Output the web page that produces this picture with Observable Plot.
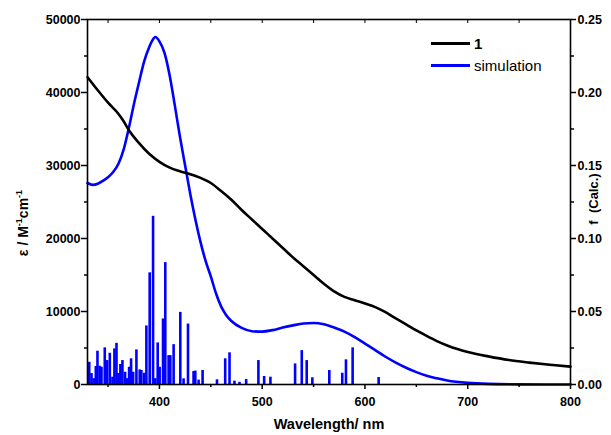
<!DOCTYPE html>
<html>
<head>
<meta charset="utf-8">
<script src="https://cdn.jsdelivr.net/npm/d3@7"></script>
<script src="https://cdn.jsdelivr.net/npm/@observablehq/plot@0.6"></script>
<style>
  body { margin: 0; background: #fff; }
  #wrap { position: relative; width: 611px; height: 435px; font-family: "Liberation Sans", Arial, sans-serif; }
  #legend { position: absolute; left: 431px; top: 33px; font-size: 15px; color: #000; }
  .row { display: flex; align-items: center; height: 21.5px; }
  .sw { width: 39px; height: 2.6px; margin-right: 4px; }
</style>
</head>
<body>
<div id="wrap"></div>
<script>
// Experimental spectrum of compound 1 (epsilon, M^-1 cm^-1)
const expWave = [330,340,350,360,365,370,380,390,400,410,420,430,440,450,460,470,480,490,500,510,520,530,540,550,560,570,580,590,600,610,620,630,640,650,660,670,680,690,700,720,740,760,780,800];
const expEps  = [42100,40300,38600,37100,36100,34900,33100,31600,30500,29700,29200,28800,28300,27600,26500,25300,23900,22600,21300,20000,18700,17400,16200,15000,13800,12750,12000,11550,11100,10600,9900,9050,8250,7400,6650,5950,5350,4850,4450,3850,3350,3000,2700,2450];

// Simulated spectrum (epsilon scale)
const simWave = [330,335,340,345,350,355,360,365,370,375,380,385,390,393,396,400,405,410,415,420,425,430,435,440,445,450,455,460,465,470,480,490,500,510,520,530,540,550,560,570,580,590,600,610,620,630,640,650,660,670,680,700,720,750,800];
const simEps  = [27600,27350,27500,27900,28400,29100,30200,32100,35000,38300,41300,44200,46200,47100,47600,47000,45400,42300,38200,33900,30000,26100,22600,19500,16900,14800,12500,10700,9500,8700,7750,7300,7250,7450,7800,8100,8350,8420,8250,7800,7250,6500,5600,4700,3800,3000,2300,1700,1200,850,550,220,80,20,0];

// Calculated oscillator strengths f
const stickWave = [331.7,333.9,336.1,338.1,339.7,341.9,343.6,346.8,349.1,351.7,354.3,356.2,358.2,360.1,362.0,364.0,366.6,368.6,370.5,372.4,374.4,377.6,380.8,382.4,385.1,387.3,390.5,393.8,396.0,398.3,400.2,403.5,405.7,408.9,410.6,413.8,420.3,423.5,427.8,433.2,434.9,438.1,442.0,456.0,464.0,468.2,473.0,477.9,484.4,496.3,501.9,508.0,532.0,538.5,543.3,548.8,565.3,577.9,581.5,588.0,613.3];
const stickF    = [0.0152,0.0075,0.004,0.0123,0.0228,0.0125,0.0118,0.0251,0.0164,0.0214,0.005,0.0244,0.0282,0.0075,0.0137,0.0164,0.0084,0.004,0.0118,0.0176,0.0084,0.0237,0.010,0.0096,0.0077,0.0401,0.0765,0.1152,0.004,0.0285,0.0118,0.0449,0.0835,0.0198,0.0198,0.0273,0.0494,0.0039,0.0414,0.0089,0.0092,0.003,0.0096,0.0032,0.0176,0.0217,0.0023,0.0015,0.0034,0.0164,0.0055,0.005,0.0141,0.0232,0.0164,0.0046,0.0096,0.0077,0.0169,0.0251,0.0048];

// Tick labels
const xMajor = [400,500,600,700,800];
const xMinor = [350,450,550,650,750];
const yMajor = [0,10000,20000,30000,40000,50000];
const yMinor = [5000,15000,25000,35000,45000];
const fPerEps = 0.25 / 50000; // right axis f scale vs left epsilon scale

const expData = expWave.map((w, i) => ({w, e: expEps[i]}));
const simData = simWave.map((w, i) => ({w, e: simEps[i]}));
const sticks = stickWave.map((w, i) => ({w, e: stickF[i] / fPerEps}));

const blue = "#0000ff";
const chart = Plot.plot({
  width: 611,
  height: 435,
  marginLeft: 87,
  marginRight: 41,
  marginTop: 19,
  marginBottom: 51,
  style: {fontFamily: "'Liberation Sans', Arial, sans-serif", fontSize: "12.5px", fontWeight: "bold", color: "#000", background: "#fff"},
  x: {domain: [330, 800]},
  y: {domain: [0, 50000]},
  marks: [
    Plot.ruleX(sticks, {x: "w", y1: 0, y2: "e", stroke: blue, strokeWidth: 2.6}),
    Plot.line(simData, {x: "w", y: "e", stroke: blue, strokeWidth: 2.6, curve: "monotone-x"}),
    Plot.line(expData, {x: "w", y: "e", stroke: "#000", strokeWidth: 2.6, curve: "monotone-x"}),
    Plot.frame({stroke: "#000", strokeWidth: 1.6}),
    Plot.axisX({ticks: xMajor, tickSize: 5, tickPadding: 8, strokeWidth: 1.5, label: null, tickFormat: d3.format("d")}),
    Plot.axisX({ticks: xMinor, tickSize: 3, strokeWidth: 1.5, label: null, tickFormat: () => ""}),
    Plot.axisX({anchor: "top", ticks: xMajor.concat(xMinor), tickSize: -3, strokeWidth: 1, label: null, tickFormat: () => ""}),
    Plot.axisY({ticks: yMajor, tickSize: 6, tickPadding: 1, strokeWidth: 1.5, label: null, tickFormat: d3.format("d")}),
    Plot.axisY({ticks: yMinor, tickSize: 3, strokeWidth: 1.5, label: null, tickFormat: () => ""}),
    Plot.axisY({anchor: "right", ticks: yMajor, tickSize: 5, tickPadding: 2, strokeWidth: 1.5, label: null, tickFormat: d => (d * fPerEps).toFixed(2)}),
    Plot.axisY({anchor: "right", ticks: yMinor, tickSize: 3, strokeWidth: 1.5, label: null, tickFormat: () => ""})
  ]
});

const svg = d3.select(chart);
// x title
svg.append("text").attr("x", 329).attr("y", 428.5).attr("text-anchor", "middle")
  .style("font-size", "14.5px").style("font-weight", "bold").text("Wavelength/ nm");
// left title
const lt = svg.append("text").attr("transform", "translate(28,223) rotate(-90)").attr("text-anchor", "middle")
  .style("font-size", "14px").style("font-weight", "bold");
lt.append("tspan").text("ε / M");
lt.append("tspan").attr("dy", -6).style("font-size", "9px").text("-1");
lt.append("tspan").attr("dy", 6).text("cm");
lt.append("tspan").attr("dy", -6).style("font-size", "9px").text("-1");
// right title
svg.append("text").attr("transform", "translate(598,199) rotate(-90)").attr("text-anchor", "middle")
  .style("font-size", "13px").style("font-weight", "bold").attr("xml:space", "preserve").text("f  (Calc.)");

const wrap = document.getElementById("wrap");
wrap.appendChild(chart);
const legend = document.createElement("div");
legend.id = "legend";
legend.innerHTML = `<div class="row"><div class="sw" style="background:#000"></div><span style="font-weight:bold">1</span></div>
<div class="row"><div class="sw" style="background:${blue}"></div><span>simulation</span></div>`;
wrap.appendChild(legend);
</script>
</body>
</html>
